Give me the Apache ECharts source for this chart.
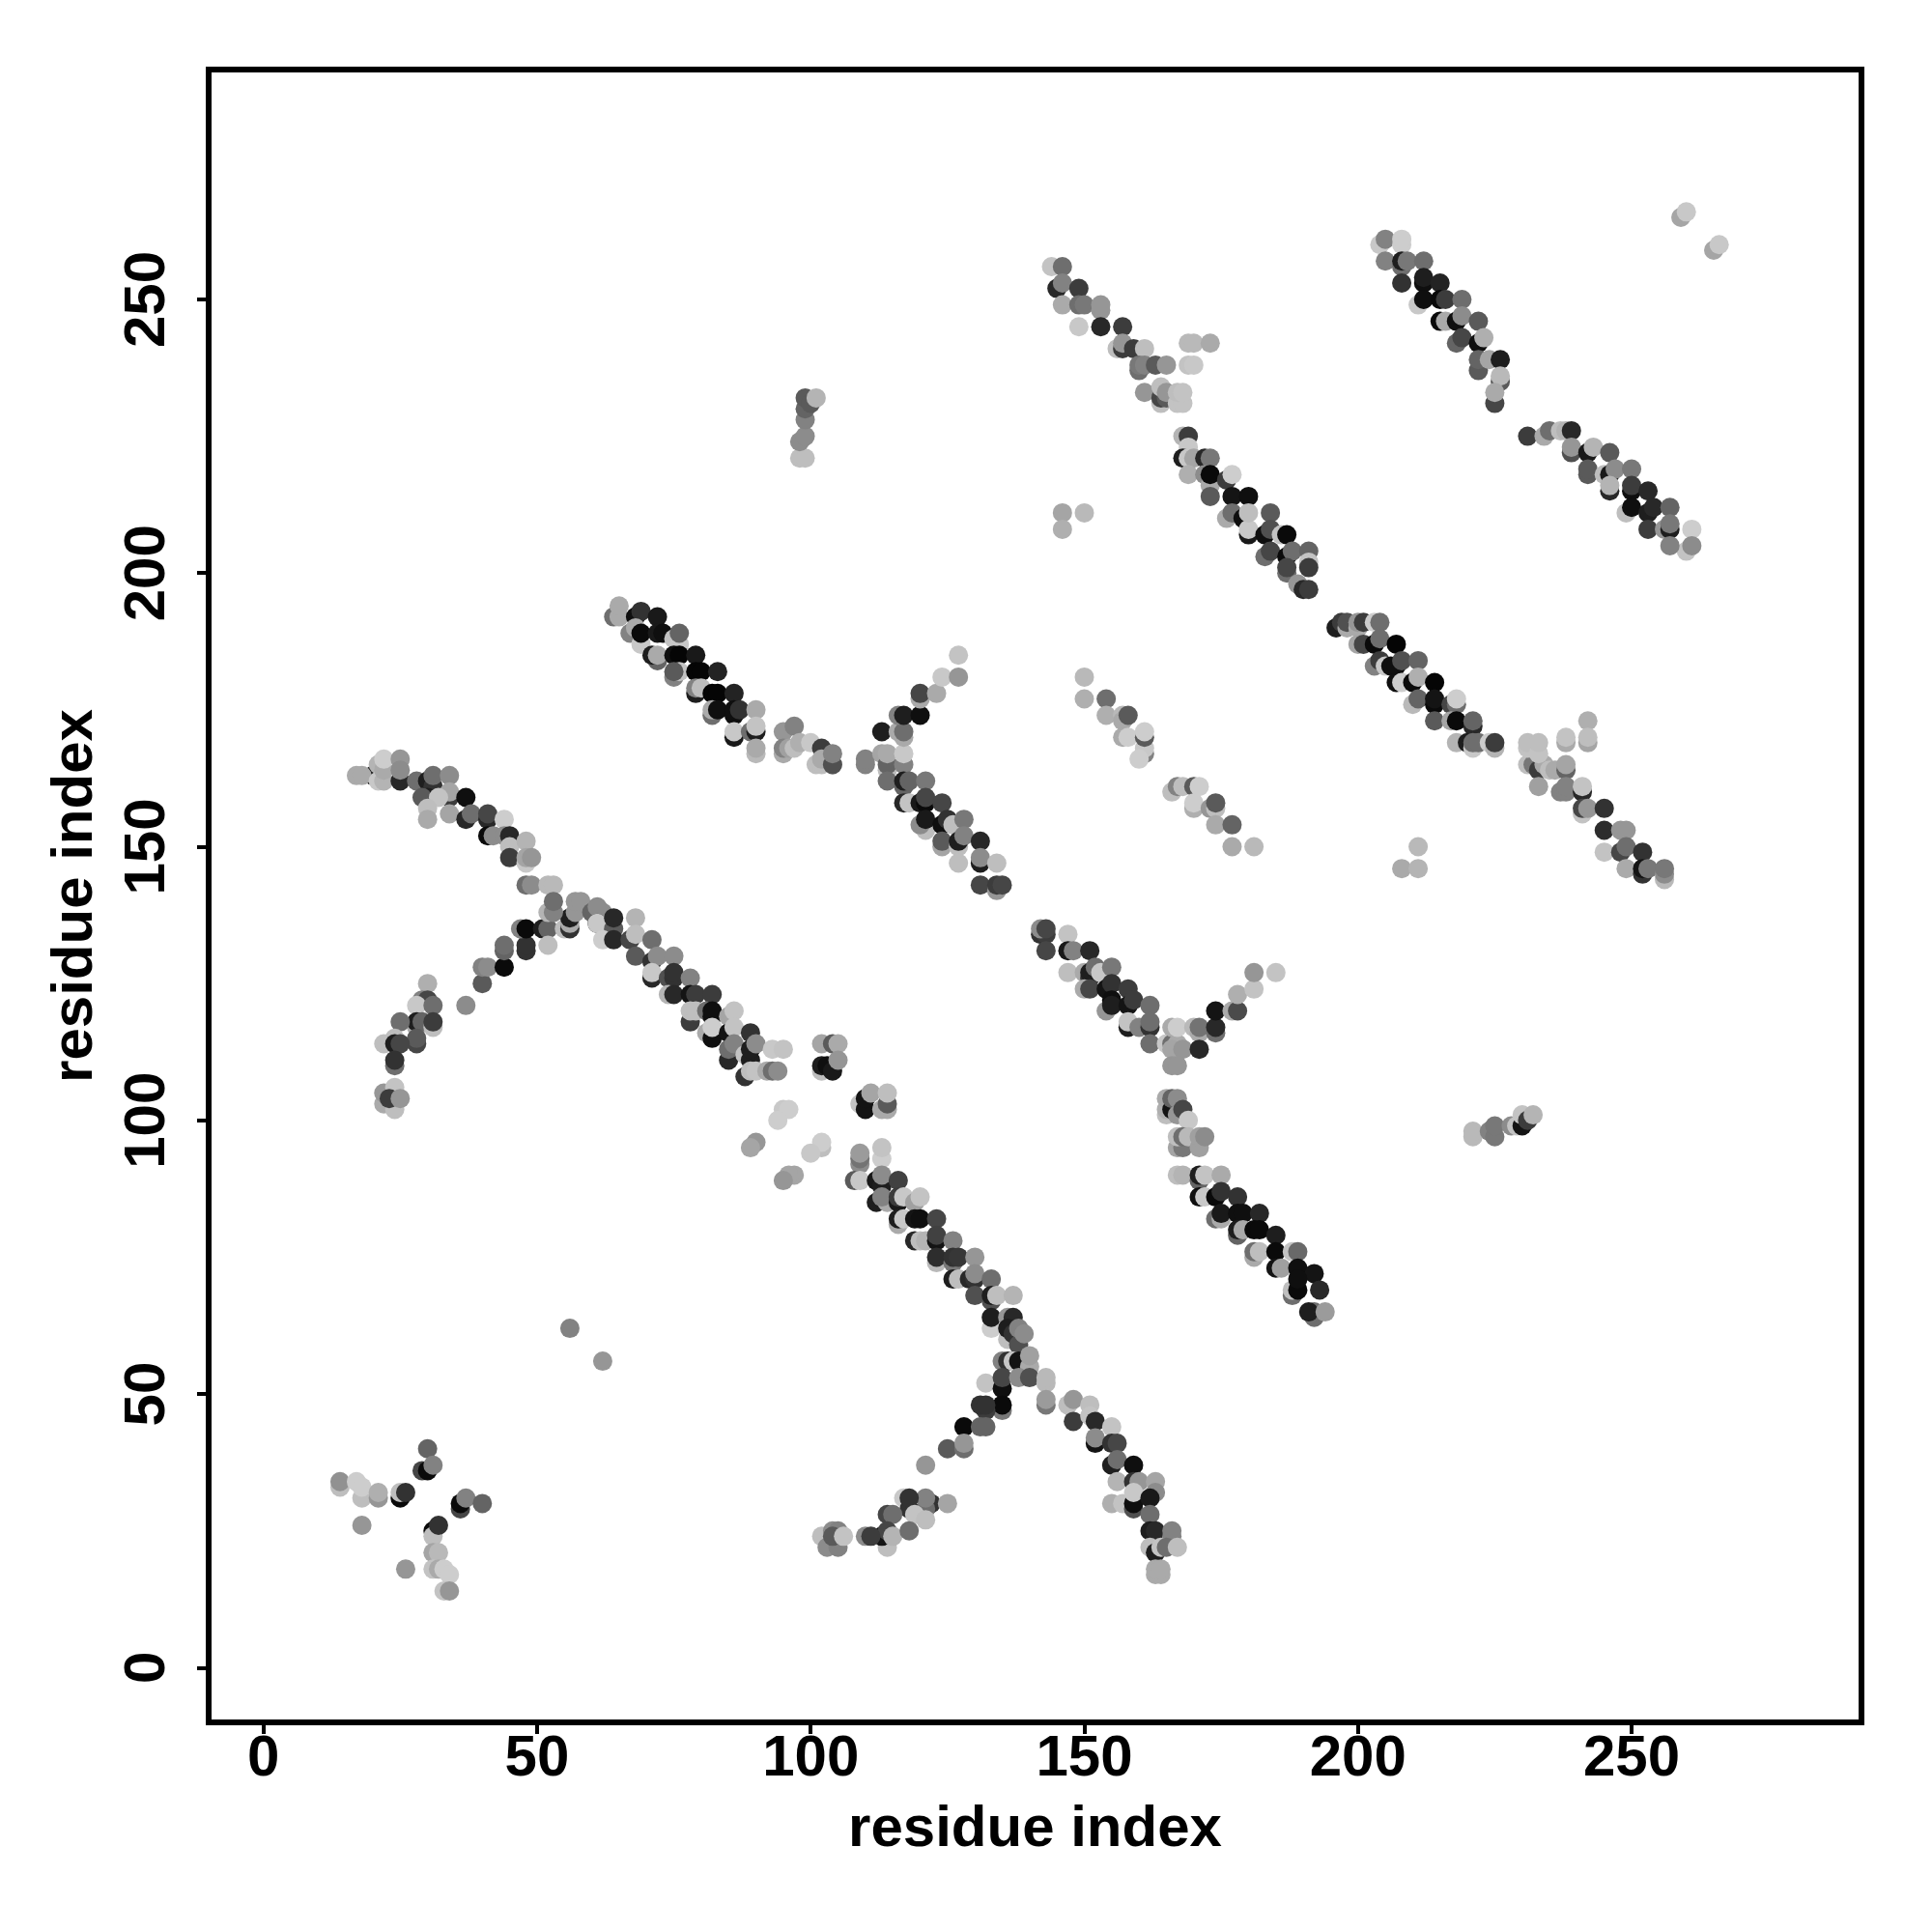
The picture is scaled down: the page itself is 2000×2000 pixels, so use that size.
<!DOCTYPE html>
<html><head><meta charset="utf-8">
<script src="https://cdn.jsdelivr.net/npm/echarts@6/dist/echarts.min.js"></script>
<style>html,body{margin:0;padding:0;background:#fff}#c{width:2000px;height:2000px}</style>
</head><body><div id="c"></div>
<script>
const axisTicks=[0,50,100,150,200,250];
const axisName='residue index';
// each entry: [residue i, residue j, grey shade]
const cornerCluster=[[14,33,190],[14,34,145],[17,34,205],[18,31,190],[18,33,205],[21,31,150],[21,32,175],[18,26,150],[25,31,10],[25,32,190],[26,32,50],[26,18,150],[30,40,100],[29,36,70],[30,36,10],[31,37,130],[36,29,70],[36,30,10],[37,31,130],[40,30,100],[31,25,10],[31,24,190],[32,26,50],[31,21,165],[32,21,185],[31,18,195],[32,18,170],[33,18,205],[34,17,205],[33,14,195],[34,14,150],[56,62,130],[62,56,150]];
const upperLeftBand=[[20,163,30],[17,163,170],[18,163,170],[21,165,180],[21,162,200],[22,162,180],[22,164,170],[22,166,205],[25,162,40],[25,166,150],[25,164,140],[28,162,110],[30,162,30],[31,161,50],[31,163,110],[34,163,140],[34,159,60],[34,160,165],[30,159,30],[29,159,90],[32,159,195],[30,157,190],[30,155,170],[34,156,165],[37,159,15],[37,155,40],[38,156,110],[41,155,40],[41,156,70],[44,155,205],[41,152,10],[42,152,140],[44,152,140],[45,152,40],[45,150,190],[45,148,60],[48,147,200],[48,151,180],[48,148,165],[49,148,150],[48,143,110],[49,143,140],[52,143,185],[53,143,185]];
const centreCross=[[37,121,140],[40,125,90],[40,128,130],[41,128,140],[44,128,10],[44,131,100],[44,132,110],[48,131,50],[48,132,50],[47,135,130],[48,135,10],[51,135,30],[52,135,100],[52,132,190],[55,135,190],[56,135,50],[56,136,170],[56,137,30],[52,138,180],[53,138,130],[53,140,110],[57,138,150],[57,140,150],[58,140,150]];
const leftArc=[[30,125,175],[29,122,130],[30,122,70],[28,121,200],[31,121,110],[28,117,170],[28,118,30],[29,118,100],[31,117,190],[31,118,60],[25,118,110],[28,114,70],[28,115,90],[22,114,190],[24,115,190],[24,114,30],[25,114,70],[24,110,110],[24,111,50],[22,103,170],[22,105,150],[24,102,190],[24,106,195],[23,104,60],[25,104,150]];
const middleBand=[[60,138,100],[62,138,140],[61,139,140],[61,136,30],[61,136,200],[64,135,90],[64,137,40],[68,137,180],[62,133,205],[64,133,40],[67,133,70],[68,134,190],[71,133,110],[68,130,90],[71,129,50],[72,130,140],[75,130,140],[71,126,40],[71,127,200],[74,126,80],[75,126,50],[75,127,50],[78,126,130],[74,123,180],[75,123,40],[78,123,20],[79,123,60],[82,123,60],[78,118,60],[78,120,190],[79,120,190],[81,120,110],[82,119,15],[82,120,15],[85,119,165],[86,120,195],[81,116,170],[82,115,15],[82,117,205],[85,116,20],[86,117,195],[89,116,50],[85,111,40],[85,113,110],[86,114,130],[88,112,195],[89,111,30],[89,113,30],[90,114,140],[93,113,200],[95,113,195],[88,108,50],[89,109,190],[90,109,195],[92,109,170],[93,109,110],[94,109,140]];
const smallIslands=[[102,114,165],[104,114,90],[105,114,170],[102,109,190],[102,110,30],[103,110,15],[104,109,25],[105,111,150],[109,103,195],[110,102,20],[110,104,20],[111,105,165],[113,102,170],[114,102,170],[114,103,90],[114,105,190],[95,102,200],[96,102,205],[94,100,205],[102,95,190],[102,96,205],[100,94,200],[90,96,150],[89,95,165],[97,90,165],[96,90,165],[95,89,150],[98,221,190],[99,221,190],[98,224,140],[99,225,140],[99,228,130],[99,230,100],[99,232,90],[100,231,90],[101,232,180],[146,211,165],[150,211,185],[146,208,175],[221,97,185],[221,98,185],[224,98,130],[225,97,120],[225,99,120],[228,99,140],[229,99,195],[230,99,20],[230,101,195],[231,100,60],[232,101,180],[208,146,170],[211,146,180],[211,150,185],[259,265,165],[260,266,200],[265,259,165],[266,260,200]];
const lowerDiagonal=[[109,92,140],[109,93,115],[109,94,155],[113,93,205],[113,95,195],[108,89,90],[109,89,200],[112,89,25],[113,88,30],[113,90,140],[116,89,65],[112,85,30],[114,85,170],[113,86,130],[116,85,25],[116,86,60],[117,86,200],[119,85,160],[120,86,195],[116,81,170],[116,82,30],[117,82,200],[119,82,20],[120,82,15],[123,82,70],[119,78,40],[120,78,190],[121,78,180],[123,78,20],[123,79,65],[126,78,130],[123,74,185],[123,75,45],[126,74,120],[126,75,50],[127,75,55],[130,75,150],[126,71,30],[127,71,190],[129,71,40],[130,71,50],[130,72,140],[133,71,110],[130,68,80],[133,67,80],[133,68,30],[134,68,190],[137,68,180],[133,62,205],[133,64,30],[136,64,150],[137,64,40],[136,60,190],[136,62,30],[137,61,50],[138,59,80],[138,62,130],[139,61,140]];
const lowerCross=[[135,56,130],[136,56,50],[137,56,200],[138,56,20],[140,55,170],[140,57,160],[132,52,195],[135,51,15],[135,53,70],[138,53,140],[140,53,80],[143,52,185],[143,53,185],[135,47,120],[135,48,10],[143,48,120],[143,49,155],[132,47,60],[131,48,50],[132,48,50],[128,44,10],[131,44,100],[132,44,100],[125,40,90],[128,40,110],[128,41,150],[121,37,150]];
const lowerTail=[[147,48,190],[148,49,150],[151,48,190],[148,45,60],[151,46,195],[152,45,40],[155,44,195],[152,41,20],[152,42,140],[155,41,50],[156,41,70],[155,37,30],[156,38,110],[159,37,15],[156,34,180],[159,34,50],[160,34,150],[163,34,165],[163,32,140],[155,30,175],[157,30,195],[159,29,80],[159,30,15],[159,32,200],[162,31,25],[162,28,110],[162,25,30],[163,25,40],[166,24,130],[166,25,130],[162,22,190],[163,21,30],[164,22,195],[165,22,110],[167,22,190],[163,17,170],[164,17,170],[163,18,170],[164,18,170]];
const lowerArc=[[122,30,50],[125,30,165],[121,29,110],[121,31,130],[117,31,200],[118,29,50],[118,31,50],[119,28,195],[121,27,190],[114,28,70],[115,28,110],[114,22,190],[113,24,20],[114,25,70],[115,24,180],[118,25,110],[110,24,140],[111,24,60],[102,24,190],[103,22,140],[104,25,140],[105,25,130],[105,22,130],[104,24,90],[106,24,195]];
const blockOne=[[64,192,110],[65,192,170],[65,194,170],[68,192,15],[69,193,50],[72,192,25],[67,189,130],[69,187,200],[68,190,170],[69,189,10],[72,189,25],[73,189,15],[75,188,195],[76,187,200],[76,189,100],[72,184,100],[71,185,30],[72,185,170],[75,185,15],[76,185,5],[79,185,25],[75,181,130],[76,182,195],[75,182,90],[79,182,5],[80,182,5],[83,182,35],[79,178,30],[79,179,130],[80,179,190],[82,178,5],[83,178,5],[86,178,35],[82,174,110],[82,175,170],[83,175,15],[86,174,15],[86,175,15],[87,175,50],[90,175,170],[86,170,25],[86,171,200],[89,171,110],[90,171,30],[90,172,195],[90,167,185],[90,168,170]];
const blockOneTail=[[95,171,150],[97,172,130],[95,167,170],[95,168,130],[96,168,160],[97,168,190],[98,169,175],[100,169,200],[101,165,190],[102,165,190],[102,168,60],[102,166,170],[104,165,170],[104,165,80],[104,167,130]];
const forkUp=[[110,165,130],[110,166,130],[113,167,165],[114,164,190],[114,165,100],[114,167,170],[117,165,130],[117,167,200],[113,171,30],[116,171,170],[117,170,170],[117,171,110],[116,174,130],[117,174,30],[120,174,15],[120,177,170],[120,178,70],[123,178,170],[124,181,200],[127,181,150],[127,185,195]];
const blockTwo=[[114,162,110],[117,161,100],[117,162,30],[118,162,100],[121,162,120],[117,158,40],[118,158,195],[120,158,25],[121,158,10],[121,159,70],[124,158,70],[121,153,190],[120,154,140],[121,155,25],[124,154,15],[125,155,50],[126,154,190],[128,155,120],[124,150,165],[124,151,90],[127,150,190],[127,151,30],[128,152,130],[131,151,40],[127,147,190],[131,147,30],[131,148,140],[134,147,190],[131,143,70],[134,142,150],[134,143,60],[135,143,70]];
const blockThree=[[142,134,50],[143,134,60],[142,135,140],[143,135,70],[143,131,70],[147,134,195],[147,131,25],[148,131,130],[151,131,40],[147,127,190],[150,127,170],[151,126,50],[151,127,30],[152,128,110],[153,127,200],[155,128,120],[150,124,170],[151,124,70],[154,124,20],[155,125,50],[158,124,60],[154,120,150],[155,122,15],[155,121,30],[158,121,20],[159,122,60],[162,121,110],[158,117,30],[158,118,195],[160,117,130],[162,117,50],[162,118,110],[162,114,110]];
const forkRight=[[165,114,200],[166,114,110],[167,114,170],[166,113,165],[168,113,150],[166,110,150],[167,110,150],[166,117,170],[167,117,205],[170,117,185],[171,116,170],[171,117,115],[171,113,40],[174,116,110],[174,117,40],[174,120,20],[177,120,170],[178,120,75],[178,123,175],[181,124,195],[181,127,150],[185,127,195]];
const blockFourHead=[[165,101,190],[165,102,175],[165,104,170],[166,102,20],[166,104,100],[167,104,140],[167,101,150],[168,102,70],[169,100,200],[167,95,165],[168,95,120],[167,97,190],[168,97,110],[169,97,185],[171,95,160],[171,97,160],[172,97,140]];
const blockFour=[[167,90,190],[168,90,180],[171,89,100],[171,90,30],[172,90,195],[175,90,170],[171,86,15],[172,86,200],[174,86,10],[175,87,50],[178,86,50],[174,82,110],[175,82,170],[175,83,25],[178,83,15],[179,83,15],[182,83,40],[178,79,100],[178,80,30],[179,80,170],[181,80,10],[182,80,10],[185,79,30],[181,75,170],[181,76,110],[182,76,190],[185,76,10],[188,76,195],[189,76,105],[185,73,20],[186,73,160],[189,73,15],[192,72,20],[188,68,110],[188,69,190],[189,69,10],[189,71,15],[193,69,40],[192,64,110],[192,65,110],[191,65,30],[194,65,155]];
const sideStrip=[[150,181,185],[150,177,175],[154,177,110],[154,174,175],[157,174,185],[157,173,170],[158,174,90],[157,170,170],[158,170,205],[161,167,130],[161,168,200],[161,170,90],[161,171,205],[160,166,205],[166,160,190],[167,161,130],[168,161,190],[170,161,90],[171,161,205],[170,157,175],[170,158,205],[173,157,150],[174,157,190],[174,158,90],[174,154,170],[177,154,100],[177,150,170],[181,150,185]];
const blockFive=[[144,256,195],[146,256,110],[145,252,40],[146,253,130],[149,252,60],[146,249,170],[149,249,110],[150,249,120],[153,248,150],[153,249,150],[149,245,200],[153,245,40],[157,245,60],[156,241,190],[157,241,60],[157,242,150],[159,241,60],[161,241,190],[160,237,110],[160,238,120],[161,238,130],[163,238,90],[165,238,150],[161,233,150],[164,231,190],[164,232,70],[165,232,90],[164,234,190],[165,233,150],[167,231,195],[168,231,195],[167,233,190],[168,233,195],[169,242,185],[170,242,185],[173,242,170],[169,238,195],[170,238,200]];
const blockSix=[[168,225,180],[169,225,60],[169,223,200],[168,221,30],[169,221,200],[170,221,165],[172,221,40],[173,221,120],[169,218,175],[172,218,140],[173,216,170],[173,218,10],[176,217,60],[177,218,205],[173,214,90],[177,214,20],[180,214,15],[176,210,170],[177,211,110],[179,210,15],[180,207,25],[180,208,200],[180,211,190],[184,211,90],[183,207,15],[184,208,80],[186,207,195],[187,207,10],[183,203,110],[184,204,70],[187,203,10],[188,204,110],[191,204,100],[187,200,110],[187,201,70],[191,202,195],[191,201,60],[189,198,150],[190,197,40],[191,197,60]];
const blockSeven=[[204,260,200],[205,261,130],[208,260,205],[208,261,205],[205,257,130],[208,256,110],[208,257,30],[209,257,120],[212,257,110],[208,253,50],[212,253,15],[212,254,30],[215,253,35],[211,249,200],[212,250,15],[215,250,10],[216,250,60],[219,250,110],[215,246,10],[216,246,170],[218,246,15],[219,247,140],[222,246,90],[218,242,100],[219,243,70],[222,242,15],[223,243,175],[222,237,90],[222,239,100],[224,239,165],[226,239,30],[226,235,90],[226,236,185],[225,231,70],[225,233,170]];
const blockEight=[[231,225,60],[234,225,170],[235,226,110],[237,226,190],[238,226,180],[239,226,40],[239,222,80],[239,223,150],[242,222,25],[243,223,180],[246,222,90],[242,218,90],[242,219,90],[245,218,190],[246,218,25],[247,219,140],[250,219,120],[246,215,40],[246,216,180],[250,215,15],[250,216,60],[253,215,40],[249,211,190],[250,212,15],[253,211,30],[254,212,40],[257,212,100],[253,208,60],[256,208,150],[257,208,30],[257,209,120],[261,208,205],[260,204,195],[257,205,130],[261,205,140]];
const blockNine=[[196,190,30],[197,191,60],[198,190,170],[198,191,80],[200,190,170],[200,191,150],[201,191,60],[203,191,205],[204,191,110],[200,187,165],[201,187,70],[203,187,10],[204,188,110],[207,187,5],[203,183,130],[204,184,60],[205,183,200],[206,183,15],[207,183,15],[208,184,80],[211,184,100],[207,180,15],[208,180,205],[210,180,10],[211,181,175],[214,180,5],[210,176,185],[211,177,100],[214,176,10],[214,177,20],[217,176,70],[218,176,110],[218,177,205],[214,173,90],[217,173,165],[218,173,10],[221,172,40],[221,173,100],[218,169,180],[220,169,30],[221,168,200],[221,169,110],[222,169,110],[224,169,205],[225,168,180],[225,169,60]];
const blockTen=[[242,173,175],[242,169,165],[242,170,190],[238,169,170],[238,170,195],[231,165,190],[232,165,120],[233,164,60],[234,165,170],[235,164,190],[236,164,170],[238,164,100],[238,165,165],[231,168,195],[231,169,190],[233,167,195],[233,169,190],[233,161,160],[237,160,130],[238,160,130],[238,161,130],[241,160,40],[241,161,195],[241,156,195],[241,157,70],[242,157,150],[245,157,50],[245,153,45],[248,153,150],[249,153,150],[245,149,195],[248,149,70],[249,150,110],[252,149,50],[249,146,170],[252,145,50],[252,146,20],[253,146,120],[256,144,185],[256,145,140],[256,146,120]];
const allPoints=[].concat(cornerCluster,upperLeftBand,centreCross,leftArc,middleBand,smallIslands,lowerDiagonal,lowerCross,lowerTail,lowerArc,blockOne,blockOneTail,forkUp,blockTwo,blockThree,forkRight,blockFourHead,blockFour,sideStrip,blockFive,blockSix,blockSeven,blockEight,blockNine,blockTen);
const font={fontFamily:'"Liberation Sans"',fontWeight:'bold',fontSize:60,color:'#000'};
function ax(){return{type:'value',min:-10,max:292,splitLine:{show:false},axisLine:{show:false,onZero:false},
 axisTick:{show:true,length:12,lineStyle:{color:'#000',width:4},customValues:axisTicks},
 name:axisName,nameLocation:'middle',nameTextStyle:font};}
const chart=echarts.init(document.getElementById('c'),null,{renderer:'canvas'});
chart.setOption({animation:false,backgroundColor:'#fff',
 grid:{show:true,left:216,right:73,top:72,bottom:217,borderColor:'#000',borderWidth:6,backgroundColor:'transparent'},
 xAxis:Object.assign(ax(),{nameGap:81,axisLabel:Object.assign({},font,{customValues:axisTicks,margin:8,hideOverlap:false})}),
 yAxis:Object.assign(ax(),{nameGap:108,axisLabel:Object.assign({},font,{customValues:axisTicks,rotate:90,margin:33,hideOverlap:false})}),
 series:[{type:'scatter',symbol:'circle',symbolSize:20,clip:true,data:allPoints,
  itemStyle:{opacity:1,color:p=>{const g=p.value[2];return 'rgb('+g+','+g+','+g+')';}}}]});
</script></body></html>
